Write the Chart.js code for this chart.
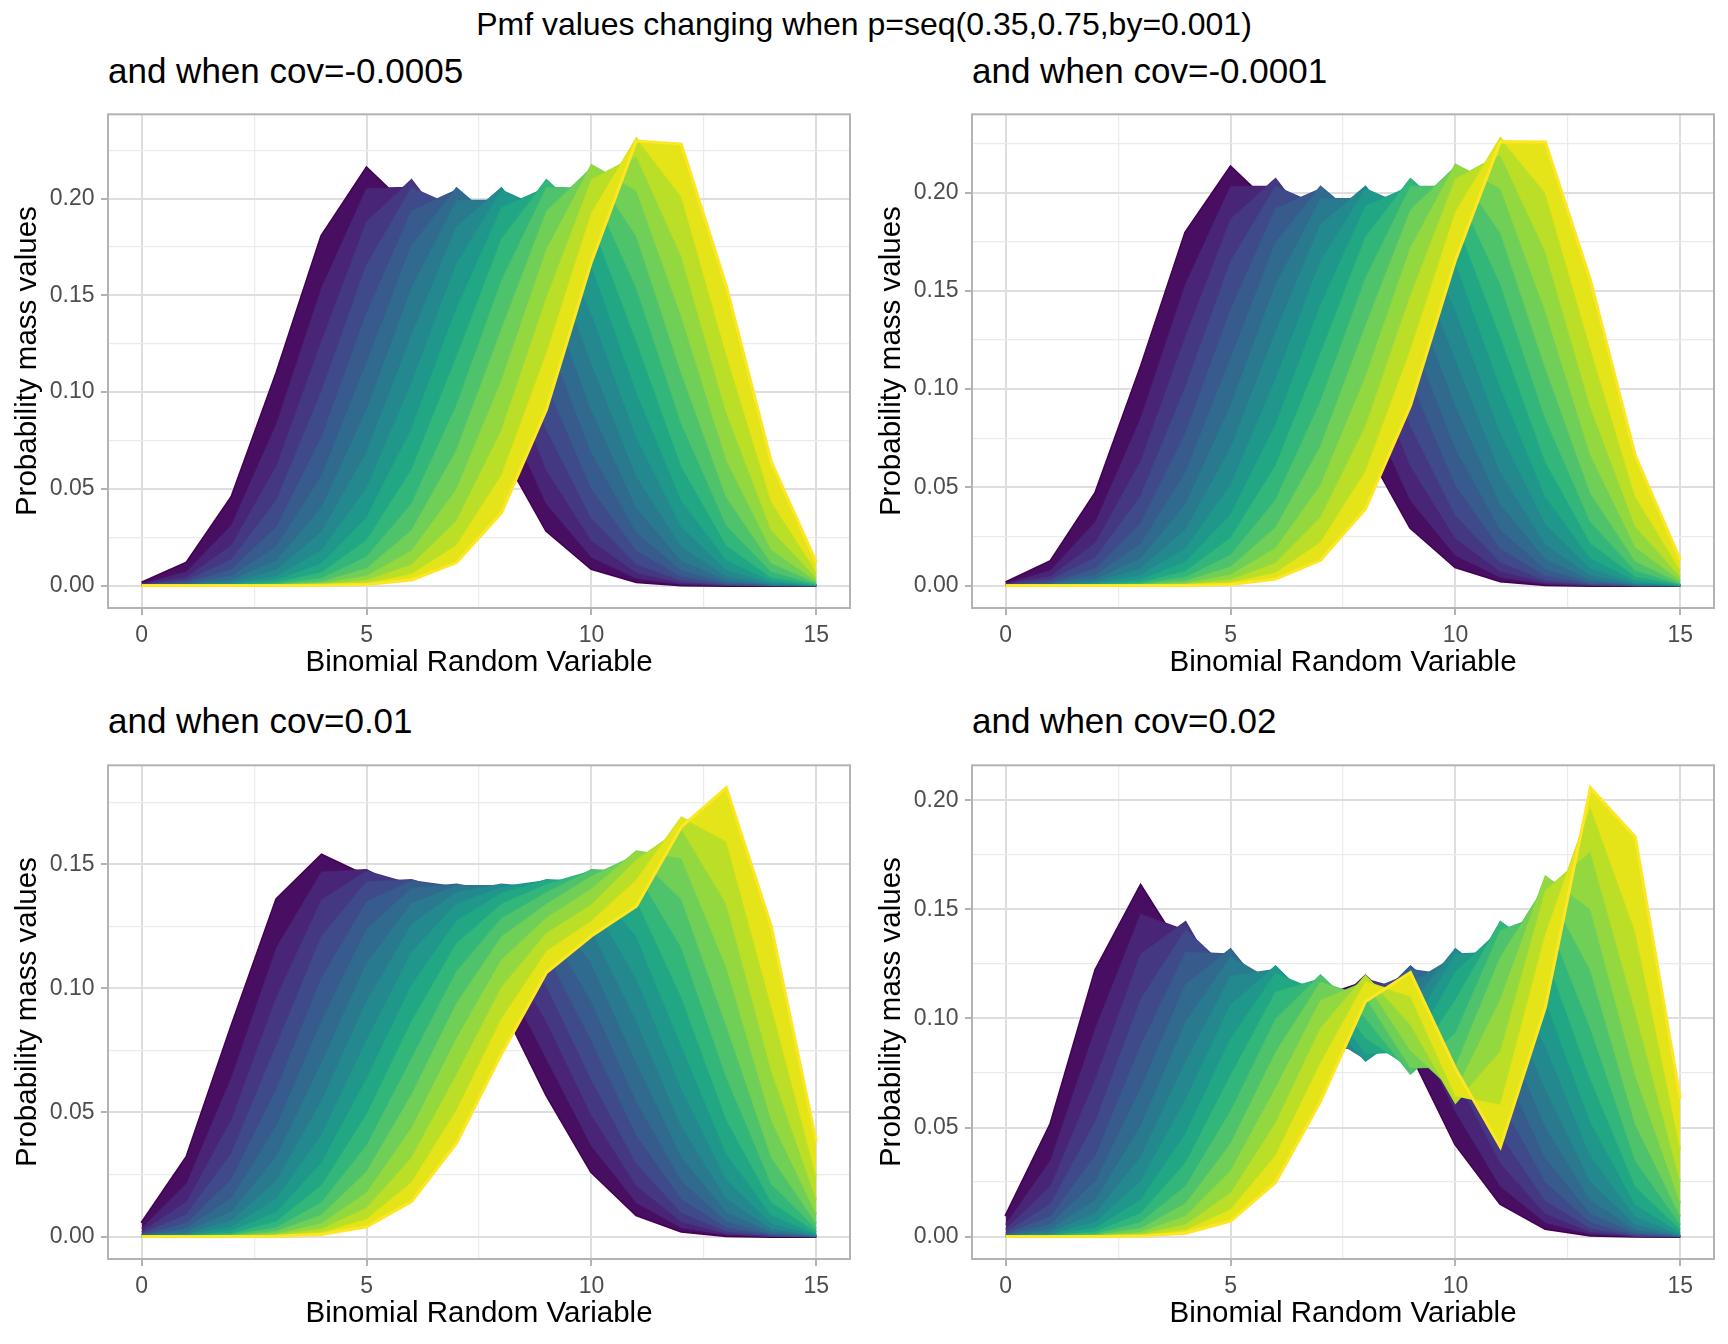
<!DOCTYPE html>
<html><head><meta charset="utf-8">
<script src="https://cdn.jsdelivr.net/npm/chart.js@4/dist/chart.umd.min.js"></script>
<style>
html,body{margin:0;padding:0;background:#fff;}
body{width:1728px;height:1344px;position:relative;overflow:hidden;font-family:"Liberation Sans",Arial,sans-serif;}
.t{position:absolute;white-space:nowrap;line-height:1;color:#000;}
.wrap{position:absolute;}
</style></head><body>
<div class="t" style="left:0;width:1728px;text-align:center;top:8px;font-size:32px;">Pmf values changing when p=seq(0.35,0.75,by=0.001)</div>
<div class="t" style="left:108px;top:52.5px;font-size:35px;">and when cov=-0.0005</div>
<div class="t" style="left:972px;top:52.5px;font-size:35px;">and when cov=-0.0001</div>
<div class="t" style="left:108px;top:702.5px;font-size:35px;">and when cov=0.01</div>
<div class="t" style="left:972px;top:702.5px;font-size:35px;">and when cov=0.02</div>
<div class="wrap" style="left:0;top:94px;"><canvas id="c1" width="862" height="594"></canvas></div>
<div class="wrap" style="left:864px;top:94px;"><canvas id="c2" width="862" height="594"></canvas></div>
<div class="wrap" style="left:0;top:745px;"><canvas id="c3" width="862" height="594"></canvas></div>
<div class="wrap" style="left:864px;top:745px;"><canvas id="c4" width="862" height="594"></canvas></div>
<script>
// ---------- data ----------
const xValues = [0,1,2,3,4,5,6,7,8,9,10,11,12,13,14,15];
const pValues = [0.35,0.375,0.40,0.425,0.45,0.475,0.50,0.525,0.55,0.575,0.60,0.625,0.65,0.675,0.70,0.725,0.75];

// cov = -0.0005 (one row per p value)
const pmfCovM0005 = [
  [0.0014,0.0117,0.0457,0.1098,0.1806,0.2158,0.1935,0.1325,0.0699,0.0284,0.0088,0.0020,0.0003,0.0000,0,0],
  [0.0008,0.0071,0.0312,0.0837,0.1538,0.2053,0.2057,0.1576,0.0931,0.0423,0.0147,0.0038,0.0007,0.0001,0,0],
  [0.0004,0.0042,0.0207,0.0617,0.1263,0.1879,0.2098,0.1792,0.1181,0.0599,0.0233,0.0068,0.0014,0.0002,0,0],
  [0.0002,0.0025,0.0133,0.0441,0.1002,0.1656,0.2056,0.1953,0.1431,0.0809,0.0349,0.0113,0.0027,0.0004,0.0000,0],
  [0.0001,0.0014,0.0083,0.0304,0.0767,0.1406,0.1938,0.2044,0.1663,0.1044,0.0501,0.0181,0.0047,0.0008,0.0001,0],
  [0.0001,0.0007,0.0050,0.0202,0.0566,0.1151,0.1759,0.2056,0.1855,0.1292,0.0688,0.0275,0.0080,0.0016,0.0002,0.0000],
  [0,0.0004,0.0029,0.0130,0.0402,0.0907,0.1537,0.1991,0.1991,0.1537,0.0907,0.0402,0.0130,0.0029,0.0004,0],
  [0.0000,0.0002,0.0016,0.0080,0.0275,0.0688,0.1292,0.1855,0.2056,0.1759,0.1151,0.0566,0.0202,0.0050,0.0007,0.0001],
  [0,0.0001,0.0008,0.0047,0.0181,0.0501,0.1044,0.1663,0.2044,0.1938,0.1406,0.0767,0.0304,0.0083,0.0014,0.0001],
  [0,0.0000,0.0004,0.0027,0.0113,0.0349,0.0809,0.1431,0.1953,0.2056,0.1656,0.1002,0.0441,0.0133,0.0025,0.0002],
  [0,0,0.0002,0.0014,0.0068,0.0233,0.0599,0.1181,0.1792,0.2098,0.1879,0.1263,0.0617,0.0207,0.0042,0.0004],
  [0,0,0.0001,0.0007,0.0038,0.0147,0.0423,0.0931,0.1576,0.2057,0.2053,0.1538,0.0837,0.0312,0.0071,0.0008],
  [0,0,0.0000,0.0003,0.0020,0.0088,0.0284,0.0699,0.1325,0.1935,0.2158,0.1806,0.1098,0.0457,0.0117,0.0014],
  [0,0,0.0000,0.0001,0.0010,0.0049,0.0179,0.0497,0.1059,0.1737,0.2175,0.2042,0.1391,0.0649,0.0185,0.0024],
  [0,0,0,0.0001,0.0005,0.0026,0.0106,0.0333,0.0802,0.1485,0.2098,0.2220,0.1703,0.0894,0.0287,0.0042],
  [0,0,0.0000,0.0000,0.0002,0.0012,0.0058,0.0207,0.0570,0.1200,0.1926,0.2313,0.2011,0.1195,0.0434,0.0072],
  [0,0,0,0,0.0001,0.0005,0.0029,0.0119,0.0376,0.0910,0.1673,0.2298,0.2282,0.1547,0.0639,0.0121]
];
// cov = -0.0001
const pmfCovM0001 = [
  [0.0015,0.0124,0.0472,0.1107,0.1796,0.2131,0.1912,0.1321,0.0708,0.0295,0.0095,0.0023,0.0004,0.0000,0,0],
  [0.0008,0.0077,0.0325,0.0849,0.1535,0.2031,0.2032,0.1565,0.0936,0.0435,0.0155,0.0042,0.0008,0.0001,0,0],
  [0.0005,0.0046,0.0217,0.0631,0.1267,0.1863,0.2072,0.1775,0.1181,0.0610,0.0242,0.0073,0.0016,0.0002,0,0],
  [0.0002,0.0027,0.0141,0.0453,0.1010,0.1647,0.2032,0.1931,0.1425,0.0816,0.0360,0.0120,0.0029,0.0005,0.0001,0],
  [0.0001,0.0015,0.0088,0.0315,0.0777,0.1404,0.1919,0.2019,0.1650,0.1047,0.0512,0.0189,0.0051,0.0010,0.0001,0],
  [0.0001,0.0008,0.0054,0.0211,0.0577,0.1154,0.1745,0.2032,0.1838,0.1290,0.0698,0.0285,0.0085,0.0018,0.0002,0.0000],
  [0,0.0004,0.0031,0.0137,0.0414,0.0915,0.1529,0.1969,0.1969,0.1529,0.0915,0.0414,0.0137,0.0031,0.0004,0],
  [0.0000,0.0002,0.0018,0.0085,0.0285,0.0698,0.1290,0.1838,0.2032,0.1745,0.1154,0.0577,0.0211,0.0054,0.0008,0.0001],
  [0,0.0001,0.0010,0.0051,0.0189,0.0512,0.1047,0.1650,0.2019,0.1919,0.1404,0.0777,0.0315,0.0088,0.0015,0.0001],
  [0,0.0001,0.0005,0.0029,0.0120,0.0360,0.0816,0.1425,0.1931,0.2032,0.1647,0.1010,0.0453,0.0141,0.0027,0.0002],
  [0,0,0.0002,0.0016,0.0073,0.0242,0.0610,0.1181,0.1775,0.2072,0.1863,0.1267,0.0631,0.0217,0.0046,0.0005],
  [0,0,0.0001,0.0008,0.0042,0.0155,0.0435,0.0936,0.1565,0.2032,0.2031,0.1535,0.0849,0.0325,0.0077,0.0008],
  [0,0,0.0000,0.0004,0.0023,0.0095,0.0295,0.0708,0.1321,0.1912,0.2131,0.1796,0.1107,0.0472,0.0124,0.0015],
  [0,0,0.0000,0.0002,0.0012,0.0054,0.0189,0.0509,0.1062,0.1720,0.2145,0.2023,0.1396,0.0666,0.0196,0.0027],
  [0,0,0,0.0001,0.0006,0.0029,0.0114,0.0345,0.0809,0.1475,0.2069,0.2193,0.1701,0.0911,0.0302,0.0046],
  [0,0,0.0000,0.0000,0.0002,0.0014,0.0064,0.0219,0.0581,0.1198,0.1901,0.2279,0.1999,0.1210,0.0453,0.0079],
  [0,0,0,0,0.0001,0.0006,0.0033,0.0129,0.0390,0.0916,0.1656,0.2261,0.2258,0.1557,0.0662,0.0131]
];
// cov = 0.01
const pmfCov001 = [
  [0.0054,0.0320,0.0849,0.1359,0.1537,0.1452,0.1340,0.1208,0.0939,0.0571,0.0261,0.0087,0.0021,0.0003,0.0000,0],
  [0.0032,0.0213,0.0642,0.1165,0.1469,0.1478,0.1386,0.1282,0.1068,0.0717,0.0366,0.0137,0.0036,0.0007,0.0001,0],
  [0.0018,0.0138,0.0471,0.0964,0.1356,0.1472,0.1420,0.1340,0.1181,0.0867,0.0491,0.0206,0.0061,0.0012,0.0001,0],
  [0.0010,0.0088,0.0335,0.0771,0.1209,0.1429,0.1438,0.1383,0.1272,0.1012,0.0634,0.0296,0.0098,0.0022,0.0003,0.0000],
  [0.0006,0.0054,0.0231,0.0596,0.1042,0.1349,0.1434,0.1409,0.1341,0.1145,0.0789,0.0409,0.0152,0.0038,0.0006,0.0000],
  [0.0003,0.0032,0.0154,0.0446,0.0869,0.1237,0.1403,0.1420,0.1388,0.1257,0.0947,0.0545,0.0225,0.0063,0.0010,0.0001],
  [0.0002,0.0019,0.0100,0.0322,0.0700,0.1100,0.1344,0.1414,0.1414,0.1344,0.1100,0.0700,0.0322,0.0100,0.0019,0.0002],
  [0.0001,0.0010,0.0063,0.0225,0.0545,0.0947,0.1257,0.1388,0.1420,0.1403,0.1237,0.0869,0.0446,0.0154,0.0032,0.0003],
  [0.0000,0.0006,0.0038,0.0152,0.0409,0.0789,0.1145,0.1341,0.1409,0.1434,0.1349,0.1042,0.0596,0.0231,0.0054,0.0006],
  [0.0000,0.0003,0.0022,0.0098,0.0296,0.0634,0.1012,0.1272,0.1383,0.1438,0.1429,0.1209,0.0771,0.0335,0.0088,0.0010],
  [0,0.0001,0.0012,0.0061,0.0206,0.0491,0.0867,0.1181,0.1340,0.1420,0.1472,0.1356,0.0964,0.0471,0.0138,0.0018],
  [0,0.0001,0.0007,0.0036,0.0137,0.0366,0.0717,0.1068,0.1282,0.1386,0.1478,0.1469,0.1165,0.0642,0.0213,0.0032],
  [0,0.0000,0.0003,0.0021,0.0087,0.0261,0.0571,0.0939,0.1208,0.1340,0.1452,0.1537,0.1359,0.0849,0.0320,0.0054],
  [0.0000,0.0000,0.0002,0.0011,0.0052,0.0177,0.0436,0.0797,0.1115,0.1284,0.1401,0.1553,0.1525,0.1086,0.0469,0.0091],
  [0,0.0000,0.0001,0.0006,0.0030,0.0114,0.0317,0.0651,0.1004,0.1222,0.1337,0.1517,0.1643,0.1341,0.0669,0.0149],
  [0,0.0000,0.0000,0.0003,0.0016,0.0069,0.0218,0.0508,0.0877,0.1150,0.1271,0.1437,0.1690,0.1593,0.0928,0.0241],
  [0,0,0.0000,0.0001,0.0008,0.0039,0.0141,0.0376,0.0736,0.1064,0.1211,0.1331,0.1651,0.1809,0.1250,0.0383]
];
// cov = 0.02
const pmfCov002 = [
  [0.0093,0.0515,0.1222,0.1609,0.1282,0.0780,0.0774,0.1097,0.1167,0.0845,0.0425,0.0151,0.0037,0.0006,0.0001,0],
  [0.0055,0.0349,0.0956,0.1478,0.1403,0.0931,0.0746,0.1002,0.1199,0.0997,0.0574,0.0231,0.0064,0.0012,0.0001,0],
  [0.0032,0.0230,0.0722,0.1294,0.1444,0.1085,0.0775,0.0910,0.1181,0.1122,0.0738,0.0337,0.0106,0.0022,0.0003,0.0000],
  [0.0018,0.0148,0.0527,0.1085,0.1406,0.1213,0.0849,0.0839,0.1121,0.1206,0.0906,0.0470,0.0167,0.0039,0.0005,0.0000],
  [0.0010,0.0092,0.0372,0.0874,0.1305,0.1295,0.0953,0.0805,0.1036,0.1241,0.1063,0.0626,0.0251,0.0066,0.0010,0.0001],
  [0.0005,0.0056,0.0254,0.0677,0.1157,0.1319,0.1064,0.0814,0.0943,0.1224,0.1194,0.0801,0.0363,0.0107,0.0019,0.0001],
  [0.0003,0.0033,0.0168,0.0505,0.0983,0.1283,0.1161,0.0864,0.0864,0.1161,0.1283,0.0983,0.0505,0.0168,0.0033,0.0003],
  [0.0001,0.0019,0.0107,0.0363,0.0801,0.1194,0.1224,0.0943,0.0814,0.1064,0.1319,0.1157,0.0677,0.0254,0.0056,0.0005],
  [0.0001,0.0010,0.0066,0.0251,0.0626,0.1063,0.1241,0.1036,0.0805,0.0953,0.1295,0.1305,0.0874,0.0372,0.0092,0.0010],
  [0.0000,0.0005,0.0039,0.0167,0.0470,0.0906,0.1206,0.1121,0.0839,0.0849,0.1213,0.1406,0.1085,0.0527,0.0148,0.0018],
  [0.0000,0.0003,0.0022,0.0106,0.0337,0.0738,0.1122,0.1181,0.0910,0.0775,0.1085,0.1444,0.1294,0.0722,0.0230,0.0032],
  [0,0.0001,0.0012,0.0064,0.0231,0.0574,0.0997,0.1199,0.1002,0.0746,0.0931,0.1403,0.1478,0.0956,0.0349,0.0055],
  [0,0.0001,0.0006,0.0037,0.0151,0.0425,0.0845,0.1167,0.1097,0.0774,0.0780,0.1282,0.1609,0.1222,0.0515,0.0093],
  [0.0000,0.0000,0.0003,0.0020,0.0093,0.0299,0.0680,0.1083,0.1168,0.0853,0.0664,0.1088,0.1653,0.1502,0.0739,0.0154],
  [0,0.0000,0.0001,0.0010,0.0054,0.0198,0.0518,0.0955,0.1198,0.0972,0.0612,0.0848,0.1585,0.1767,0.1032,0.0251],
  [0,0.0000,0.0001,0.0005,0.0029,0.0123,0.0371,0.0795,0.1169,0.1102,0.0646,0.0603,0.1384,0.1972,0.1398,0.0401],
  [0,0,0.0000,0.0002,0.0015,0.0071,0.0248,0.0620,0.1078,0.1211,0.0771,0.0410,0.1051,0.2058,0.1832,0.0633]
];

// axis ticks
const xMajorTicks = [0,5,10,15];
const xTickLabels = ['0','5','10','15'];
const xGridValues = [0,2.5,5,7.5,10,12.5,15];
const yMajorA = [0,0.05,0.10,0.15,0.20];
const yTickLabelsA = ['0.00','0.05','0.10','0.15','0.20'];
const yGridA = [0,0.025,0.05,0.075,0.10,0.125,0.15,0.175,0.20,0.225];
const yMajorC = [0,0.05,0.10,0.15];
const yTickLabelsC = ['0.00','0.05','0.10','0.15'];
const yGridC = [0,0.025,0.05,0.075,0.10,0.125,0.15,0.175];
const yGridD = [0,0.025,0.05,0.075,0.10,0.125,0.15,0.175,0.20];

// ---------- style ----------
const FONT = '"Liberation Sans", Arial, sans-serif';
const lineColors = ['#440154','#481A6C','#472F7D','#414487','#3B528B','#33638D','#2C728E','#26818E','#21908D',
                    '#1FA088','#27AD81','#3FBC73','#5DC863','#7FD34E','#A6DB35','#CDE11D','#FDE725'];
const bandColors = ['#470E61','#482576','#453882','#3E4A89','#375B8D','#306A8E','#297A8E','#23898E',
                    '#1F988B','#22A785','#32B67A','#4EC36B','#6FCF57','#94D840','#BBDF27','#E4E419'];

const panelBorder = {
  id: 'panelBorder',
  afterDatasetsDraw(chart) {
    const {ctx, chartArea: a} = chart;
    ctx.save();
    ctx.strokeStyle = '#B3B3B3';
    ctx.lineWidth = 2;
    ctx.strokeRect(a.left, a.top, a.right - a.left, a.bottom - a.top);
    ctx.restore();
  }
};

function makePanel(canvasId, rows, yMin, yMax, yMajor, yLabels, yGrid) {
  const n = rows.length;
  const datasets = rows.map((vals, i) => ({
    label: 'p=' + pValues[i],
    data: vals.map((v, j) => ({x: xValues[j], y: v})),
    borderColor: lineColors[i],
    backgroundColor: i === 0 ? lineColors[0] : bandColors[i - 1],
    fill: i === 0 ? false : '-1',
    borderWidth: (i === n - 1 || i === 0) ? 3 : 1.5,
    pointRadius: 0,
    tension: 0,
    order: n - 1 - i
  }));
  const isMajX = v => xMajorTicks.indexOf(v) >= 0;
  const isMajY = v => yMajor.indexOf(v) >= 0;
  new Chart(document.getElementById(canvasId), {
    type: 'line',
    data: { datasets },
    plugins: [panelBorder],
    options: {
      responsive: false,
      animation: false,
      layout: { padding: { top: 10, right: 12, left: 0, bottom: 0 } },
      plugins: { legend: { display: false }, tooltip: { enabled: false } },
      scales: {
        x: {
          type: 'linear', min: -0.75, max: 15.75,
          afterBuildTicks: s => { s.ticks = xGridValues.map(v => ({value: v})); },
          afterFit: s => { s.height = 80; },
          border: { display: false },
          grid: {
            color: c => isMajX(c.tick.value) ? '#DEDEDE' : '#EBEBEB',
            lineWidth: c => isMajX(c.tick.value) ? 2 : 1.2,
            tickLength: 7,
            tickWidth: 2,
            tickColor: c => isMajX(c.tick.value) ? '#B3B3B3' : 'rgba(0,0,0,0)'
          },
          ticks: {
            autoSkip: false, maxRotation: 0, padding: 7, color: '#4D4D4D',
            font: { family: FONT, size: 23 },
            callback: v => { const k = xMajorTicks.indexOf(v); return k >= 0 ? xTickLabels[k] : ''; }
          },
          title: { display: true, text: 'Binomial Random Variable', color: '#000',
                   font: { family: FONT, size: 29.5 }, padding: { top: 0, bottom: 7.5 } }
        },
        y: {
          type: 'linear', min: yMin, max: yMax,
          afterBuildTicks: s => { s.ticks = yGrid.map(v => ({value: v})); },
          afterFit: s => { s.width = 108; },
          border: { display: false },
          grid: {
            color: c => isMajY(c.tick.value) ? '#DEDEDE' : '#EBEBEB',
            lineWidth: c => isMajY(c.tick.value) ? 2 : 1.2,
            tickLength: 7,
            tickWidth: 2,
            tickColor: c => isMajY(c.tick.value) ? '#B3B3B3' : 'rgba(0,0,0,0)'
          },
          ticks: {
            autoSkip: false, padding: 6.5, color: '#4D4D4D',
            font: { family: FONT, size: 23 },
            callback: v => { const k = yMajor.indexOf(v); return k >= 0 ? yLabels[k] : ''; }
          },
          title: { display: true, text: 'Probability mass values', color: '#000',
                   font: { family: FONT, size: 29.5 }, padding: { top: 10, bottom: 0 } }
        }
      }
    }
  });
}

makePanel('c1', pmfCovM0005, -0.0116, 0.2436, yMajorA, yTickLabelsA, yGridA);
makePanel('c2', pmfCovM0001, -0.0114, 0.2399, yMajorA, yTickLabelsA, yGridA);
makePanel('c3', pmfCov001, -0.00904, 0.1899, yMajorC, yTickLabelsC, yGridC);
makePanel('c4', pmfCov002, -0.01029, 0.2161, yMajorA, yTickLabelsA, yGridD);
</script>
</body></html>
